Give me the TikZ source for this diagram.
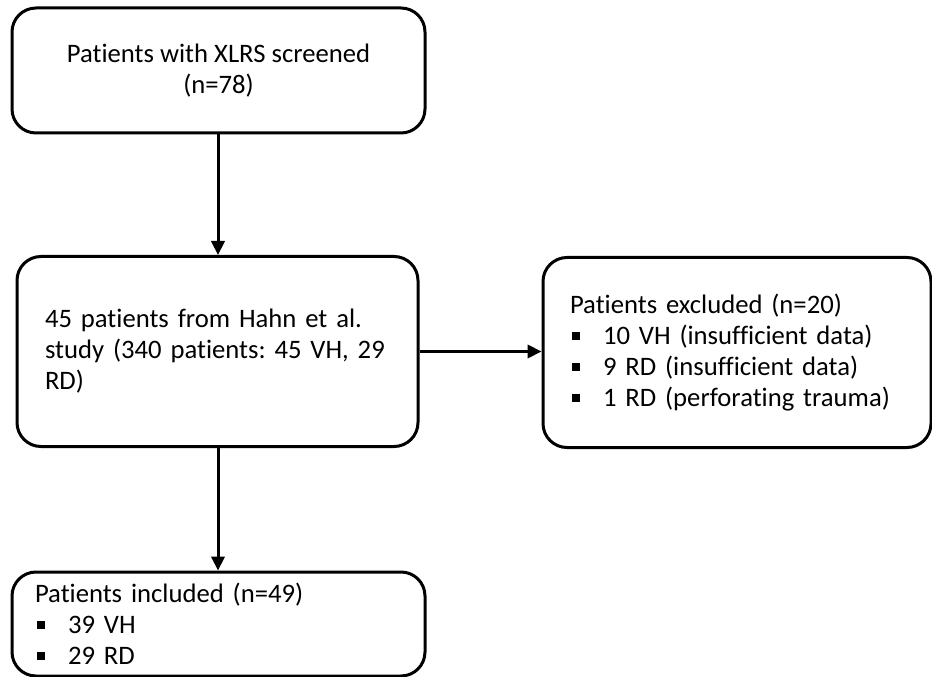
\documentclass[tikz,border=0pt]{standalone}
\usepackage{fontspec}
\setmainfont{Carlito}[Ligatures={NoCommon}]
\usepackage{tikz}
\usetikzlibrary{calc,arrows.meta}
\frenchspacing

\newcommand{\sqbullet}{\makebox[24.75pt][l]{\hspace{1.5pt}\rule[3.5pt]{6pt}{6pt}}}

\tikzset{
    flowbox/.style={draw=black, line width=2.25pt, rounded corners=18pt,
        font=\fontsize{20}{23.25}\selectfont, inner ysep=0pt},
    flowarrow/.style={line width=2.25pt, -{Triangle[length=10.5pt,width=10pt]}}
}

\begin{document}
\begin{tikzpicture}[x=0.75pt, y=-0.75pt]
    \useasboundingbox (0,0) rectangle (932,677);

    \node[flowbox, minimum width=309.75pt, minimum height=93.75pt, align=center] (screened) at (218.5,70.5)
        {Patients with XLRS screened\\(n=78)};

    \node[flowbox, minimum width=300.75pt, minimum height=142.5pt, inner xsep=21pt,
        text width=258.75pt, align=left] (hahn) at ($(screened) + (-1,281)$)
        {45 patients from Hahn et al.\\study (340 patients: 45 VH, 29\\RD)};

    \node[flowbox, minimum width=291pt, minimum height=142.5pt, inner xsep=20.25pt,
        text width=250.5pt, align=left] (excluded) at ($(hahn) + (519.5,1)$)
        {Patients excluded (n=20)\\
         \sqbullet 10 VH (insufficient data)\\
         \sqbullet 9 RD (insufficient data)\\
         \sqbullet 1 RD (perforating trauma)};

    \node[flowbox, minimum width=309.75pt, minimum height=78pt, inner xsep=17.25pt,
        text width=275.25pt, align=left] (included) at ($(screened) + (0,553.5)$)
        {Patients included (n=49)\\
         \sqbullet 39 VH\\
         \sqbullet 29 RD};

    \coordinate (spine) at ($(screened.south) + (-0.5,0)$);

    \draw[flowarrow] (spine) -- (spine |- hahn.north);
    \draw[flowarrow] (hahn.east) -- (hahn.east -| excluded.west);
    \draw[flowarrow] (spine |- hahn.south) -- (spine |- included.north);

\end{tikzpicture}
\end{document}
